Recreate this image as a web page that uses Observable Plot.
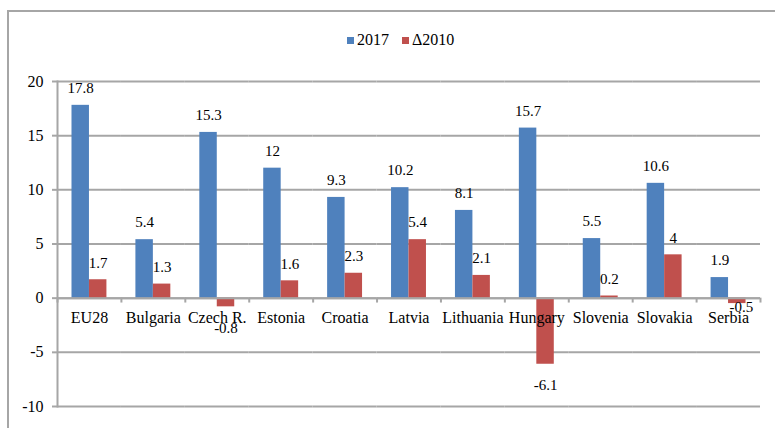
<!DOCTYPE html>
<html><head><meta charset="utf-8">
<script src="https://cdn.jsdelivr.net/npm/d3@7"></script>
<script src="https://cdn.jsdelivr.net/npm/@observablehq/plot@0.6"></script>
<style>
body{margin:0;background:#fff;font-family:"Liberation Serif","Times New Roman",serif;}
#frame{position:absolute;left:7px;top:10px;width:800px;height:440px;border-top:2px solid #a6a6a6;border-left:2px solid #a6a6a6;}
#legend{position:absolute;top:32px;left:347px;display:flex;align-items:center;font-size:16px;line-height:16px;color:#000;white-space:nowrap;}
.sw{width:7px;height:7px;display:inline-block;margin-right:3px;}
#chart{position:absolute;left:0;top:60px;}
</style></head><body>
<div id="frame"></div>
<div id="legend"></div>
<div id="chart"></div>
<script>
const countries = ["EU28","Bulgaria","Czech R.","Estonia","Croatia","Latvia","Lithuania","Hungary","Slovenia","Slovakia","Serbia"];
const series = ["2017","\u03942010"];
const values2017 = [17.8,5.4,15.3,12,9.3,10.2,8.1,15.7,5.5,10.6,1.9];
const valuesDelta = [1.7,1.3,-0.8,1.6,2.3,5.4,2.1,-6.1,0.2,4,-0.5];
const yTicks = [-10,-5,0,5,10,15,20];
const colors = ["#4F81BD","#C0504D"];

const rows = [];
countries.forEach((c,i)=>{
  rows.push({country:c, series:series[0], value:values2017[i]});
  rows.push({country:c, series:series[1], value:valuesDelta[i]});
});

// legend
const lg = document.getElementById("legend");
series.forEach((s,i)=>{
  const sw = document.createElement("span"); sw.className="sw"; sw.style.background=colors[i];
  const t = document.createElement("span"); t.textContent=s; t.style.marginRight = i===0 ? "13px" : "0";
  lg.appendChild(sw); lg.appendChild(t);
});

const W=775,H=368,mL=57,mR=15,mT=21,mB=22;
const band=(W-mL-mR)/countries.length;
const gray="#a6a6a6";
const fmt = d=>String(d);
const last = countries[countries.length-1];
const neg = rows.filter(d=>d.value<0);

const chart = Plot.plot({
  width:W,height:H,marginLeft:mL,marginRight:mR,marginTop:mT,marginBottom:mB,
  style:{fontFamily:'"Liberation Serif","Times New Roman",serif',fontSize:"16px",color:"#000",background:"transparent",overflow:"visible"},
  fx:{domain:countries,padding:0,round:false,axis:null},
  x:{domain:series,paddingInner:0,paddingOuter:0.83,round:false,axis:null},
  y:{domain:[-10,20],axis:null},
  color:{domain:series,range:colors},
  marks:[
    Plot.ruleY(yTicks,{stroke:gray,strokeWidth:2}),
    Plot.axisY({ticks:yTicks,tickFormat:fmt,tickSize:5,tickPadding:9,stroke:gray,strokeWidth:2,fill:"#000",fontSize:16,label:null}),
    Plot.frame({anchor:"left",stroke:gray,strokeWidth:2,facetAnchor:"left"}),
    Plot.barY(rows,{fx:"country",x:"series",y:"value",fill:"series"}),
    Plot.ruleX(countries,{fx:d=>d,x:null,y1:0,y2:-0.45,dx:-band/2,stroke:gray,strokeWidth:2}),
    Plot.ruleX([last],{fx:d=>d,x:null,y1:0,y2:-0.45,dx:band/2,stroke:gray,strokeWidth:2}),
    Plot.ruleY([0],{stroke:gray,strokeWidth:2}),
    Plot.text(countries,{fx:d=>d,y:()=>0,text:d=>d,dy:20,fontSize:16,fill:"#000"}),
    Plot.text(rows.filter(d=>d.value>=0),{fx:"country",x:"series",y:"value",text:d=>fmt(d.value),dy:-17,fontSize:15,fill:"#000"}),
    Plot.text(neg.filter(d=>d.country!==last),{fx:"country",x:"series",y:"value",text:d=>fmt(d.value),dy:21,fontSize:15,fill:"#000"}),
    Plot.text(neg.filter(d=>d.country===last),{fx:"country",x:"series",y:"value",text:d=>fmt(d.value),dy:4,dx:4,fontSize:15,fill:"#000"})
  ]
});
document.getElementById("chart").appendChild(chart);
</script>
</body></html>
